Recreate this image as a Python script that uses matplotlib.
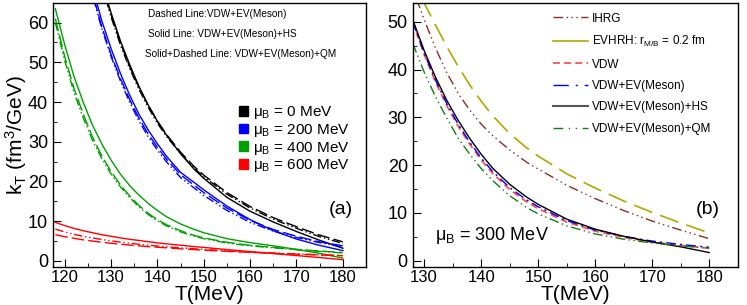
import matplotlib
matplotlib.use('Agg')
import matplotlib.pyplot as plt
from matplotlib.patches import Patch
from matplotlib.lines import Line2D

plt.rcParams['font.family'] = ['Liberation Sans', 'DejaVu Sans']
plt.rcParams['lines.scale_dashes'] = False
plt.rcParams['mathtext.fontset'] = 'custom'
plt.rcParams['mathtext.rm'] = 'Liberation Sans'
plt.rcParams['mathtext.it'] = 'Liberation Sans'

# ---- panel (a): kT vs T for several muB ----
T_a = [118, 120, 122, 124, 126, 128, 130, 132, 134, 136, 138, 140, 142, 145, 148, 150,
       155, 160, 165, 170, 175, 180]

mu0_ev = [120, 108, 97, 87, 78, 70, 62, 55, 49, 43.8, 39.2, 35.2, 31.8, 27.4, 23.7, 21.6,
          17.2, 13.7, 10.9, 8.6, 6.5, 4.8]
mu0_hs = [120, 108, 97, 87, 78, 70, 62.5, 55.5, 49.5, 44, 39.3, 35.2, 31.6, 27, 23, 20.8,
          16, 12.5, 9.8, 7.4, 5.2, 3.2]
mu0_qm = [119, 107, 96, 86, 77, 69.5, 61.5, 54.5, 48.5, 43.3, 38.7, 34.7, 31.3, 27, 23.3, 21.2,
          16.8, 13.3, 10.5, 8.2, 6.1, 4.4]

mu200_ev = [110, 98, 87.5, 77, 67.5, 59, 52, 46, 40.7, 36, 32, 28.6, 25.6, 21.7, 19, 17.2,
            13.3, 10.2, 7.9, 6.2, 4.8, 3.8]
mu200_hs = [112, 100, 89, 79, 69, 60.5, 53.5, 47.3, 41.8, 37, 33, 29.5, 26.3, 22.3, 19.7, 17.9,
            13.8, 10.4, 7.6, 5.5, 3.9, 2.6]
mu200_qm = [109, 97, 86.5, 76.5, 67, 58.5, 51.5, 45.4, 40, 35.3, 31.3, 27.9, 24.9, 21, 18.3, 16.5,
            12.7, 9.7, 7.5, 5.9, 4.6, 3.5]

mu400_ev = [61, 51.5, 43.5, 37, 31.2, 26.5, 22.5, 19.2, 16.4, 14, 12, 10.4, 9.1, 7.6, 6.4, 5.8,
            4.7, 3.9, 3.4, 2.9, 2.5, 2.1]
mu400_hs = [63.5, 54.5, 46.5, 40, 34.2, 29.5, 25.4, 21.9, 19, 16.6, 14.5, 12.7, 11.1, 9.3, 7.9, 7.1,
            5.6, 4.6, 3.8, 2.9, 1.9, 0.7]
mu400_qm = [60, 50.5, 42.5, 36, 30.4, 25.8, 21.9, 18.7, 16, 13.6, 11.7, 10.1, 8.8, 7.3, 6.2, 5.6,
            4.5, 3.8, 3.3, 2.8, 2.4, 2.0]

mu600_ev = [6.6, 6.1, 5.7, 5.3, 5.0, 4.7, 4.45, 4.2, 4.0, 3.8, 3.6, 3.45, 3.3, 3.05, 2.85, 2.7,
            2.4, 2.15, 1.9, 1.7, 1.5, 1.3]
mu600_hs = [9.7, 8.9, 8.2, 7.6, 7.1, 6.6, 6.2, 5.8, 5.45, 5.15, 4.85, 4.55, 4.3, 3.95, 3.6, 3.4,
            2.85, 2.35, 1.85, 1.35, 0.85, 0.3]
mu600_qm = [8.0, 7.3, 6.7, 6.2, 5.8, 5.4, 5.05, 4.75, 4.45, 4.2, 3.95, 3.75, 3.55, 3.3, 3.05, 2.9,
            2.55, 2.25, 2.0, 1.75, 1.55, 1.35]

mu_labels = ['0', '200', '400', '600']
mu_colors = ['#000000', '#0000ff', '#00a000', '#ff0000']

# ---- panel (b): muB = 300 MeV, model comparison ----
T_b = [128, 130, 132, 134, 136, 138, 140, 142, 145, 148, 150, 155, 160, 165, 170, 175, 180]

ihrg = [57, 50.5, 44.5, 39.3, 35, 31.5, 28.6, 26.2, 23.2, 20.6, 19.2, 15.8, 13, 10.5, 8.3, 6.4, 4.6]
evhrh = [60, 54, 49.3, 44.8, 40.6, 36.8, 33.4, 30.4, 26.6, 23.6, 21.9, 18.2, 15.2, 12.5, 10.1, 7.9, 5.8]
vdw = [50, 43.2, 37.4, 32.4, 28.1, 24.4, 21.1, 18.3, 14.9, 12.3, 10.9, 8.1, 6.2, 4.9, 3.9, 3.2, 2.6]
vdw_ev = [50, 43.5, 37.8, 32.8, 28.5, 24.8, 21.5, 18.7, 15.3, 12.7, 11.3, 8.4, 6.4, 5.1, 4.1, 3.4, 2.8]
vdw_hs = [50.5, 44, 38.4, 33.5, 29.3, 25.6, 22.3, 19.4, 16, 13.3, 11.8, 8.7, 6.6, 5.1, 3.9, 2.9, 1.7]
vdw_qm = [45.5, 39.5, 34.3, 29.8, 25.6, 22.3, 19.3, 16.8, 13.6, 11.1, 9.8, 7.3, 5.6, 4.5, 3.7, 3.1, 2.6]

b_labels = ['IHRG', 'EVHRH: $\\mathregular{r_{M/B}}$ = 0.2 fm', 'VDW', 'VDW+EV(Meson)',
            'VDW+EV(Meson)+HS', 'VDW+EV(Meson)+QM']

fig = plt.figure(figsize=(7.47, 3.05), dpi=100)
ax1 = fig.add_axes([0.071, 0.125, 0.419, 0.866])
ax2 = fig.add_axes([0.5525, 0.125, 0.435, 0.866])

dash_ev = (0, (9, 3))
dash_qm = (0, (6, 2, 1, 2, 1, 2))

groups = [(mu0_ev, mu0_hs, mu0_qm), (mu200_ev, mu200_hs, mu200_qm),
          (mu400_ev, mu400_hs, mu400_qm), (mu600_ev, mu600_hs, mu600_qm)]
for (ev, hs, qm), c in zip(groups, mu_colors):
    ax1.plot(T_a, ev, color=c, lw=1.0, linestyle=dash_ev)
    ax1.plot(T_a, hs, color=c, lw=1.0)
    ax1.plot(T_a, qm, color=c, lw=1.0, linestyle=dash_qm)

ax1.set_xlim(117.5, 185)
ax1.set_ylim(-1.5, 65)

handles = [Patch(facecolor=c, edgecolor=c) for c in mu_colors]
labels = ['$\\mathregular{\\mu_B}$ = %s MeV' % m for m in mu_labels]
ax1.legend(handles, labels, loc='upper left', bbox_to_anchor=(0.57, 0.645), frameon=False,
           fontsize=11, handlelength=0.6, handleheight=0.6, handletextpad=0.3,
           labelspacing=0.05, borderpad=0)

ax1.text(0.305, 0.945, 'Dashed Line:VDW+EV(Meson)', transform=ax1.transAxes, fontsize=7.2)
ax1.text(0.305, 0.87, 'Solid Line: VDW+EV(Meson)+HS', transform=ax1.transAxes, fontsize=7.2)
ax1.text(0.295, 0.795, 'Solid+Dashed Line: VDW+EV(Meson)+QM', transform=ax1.transAxes, fontsize=7.2)
ax1.text(0.88, 0.2, '(a)', transform=ax1.transAxes, fontsize=14)

ax1.set_xticks([120, 130, 140, 150, 160, 170, 180])
ax1.set_xticks(range(125, 185, 10), minor=True)
ax1.set_yticks(range(0, 61, 10))
ax1.set_yticks(range(5, 65, 10), minor=True)
ax1.set_xlabel('T(MeV)', fontsize=15, labelpad=0)
ax1.set_ylabel('$\\mathregular{k_T\\ (fm^3/GeV)}$', fontsize=15)
ax1.yaxis.set_label_coords(-0.076, 0.5)

# panel (b)
ls_ihrg = (0, (7, 2.5, 1, 2.5, 1, 2.5, 1, 2.5))
ls_qm = (0, (7, 2.5, 1, 2.5, 1, 2.5))
ax2.plot(T_b, ihrg, color='#8b2c2c', lw=1.0, linestyle=ls_ihrg)
ax2.plot(T_b, evhrh, color='#b0a800', lw=1.2, linestyle=(0, (14, 6)))
ax2.plot(T_b, vdw, color='#ff4f4f', lw=1.3, linestyle=(0, (5, 3)))
ax2.plot(T_b, vdw_ev, color='#0000ff', lw=1.0, linestyle=(0, (7, 3, 1.5, 3)))
ax2.plot(T_b, vdw_hs, color='#000000', lw=1.0)
ax2.plot(T_b, vdw_qm, color='#108010', lw=1.0, linestyle=ls_qm)

ax2.set_xlim(128, 185)
ax2.set_ylim(-1.3, 54)
ax2.set_xticks([130, 140, 150, 160, 170, 180])
ax2.set_xticks(range(135, 185, 10), minor=True)
ax2.set_yticks(range(0, 51, 10))
ax2.set_yticks(range(5, 55, 10), minor=True)
ax2.set_xlabel('T(MeV)', fontsize=15, labelpad=0)

leg_handles = [
    Line2D([], [], color='#8b2c2c', lw=1.0, linestyle=ls_ihrg),
    Line2D([], [], color='#b0a800', lw=1.2),
    Line2D([], [], color='#ff4f4f', lw=1.3, linestyle=(0, (5, 3))),
    Line2D([], [], color='#0000ff', lw=1.0, linestyle=(0, (11, 5, 1.5, 5))),
    Line2D([], [], color='#555555', lw=1.5),
    Line2D([], [], color='#108010', lw=1.0, linestyle=(0, (7, 4, 1, 4, 1, 4))),
]
ax2.legend(leg_handles, b_labels, loc='upper left', bbox_to_anchor=(0.415, 0.985), frameon=False,
           fontsize=8.5, handlelength=2.9, handletextpad=0.35, labelspacing=0.8, borderpad=0)

ax2.text(0.07, 0.1, '$\\mathregular{\\mu_B}$ = 300 MeV', transform=ax2.transAxes, fontsize=13)
ax2.text(0.87, 0.2, '(b)', transform=ax2.transAxes, fontsize=14)

for ax in (ax1, ax2):
    ax.tick_params(which='both', direction='in', top=False, right=False)
    ax.tick_params(which='major', length=6, labelsize=13)
    ax.tick_params(which='minor', length=3)
    ax.tick_params(axis='x', labelsize=12, pad=2)
    for s in ax.spines.values():
        s.set_linewidth(1.0)

fig.savefig('out.png', dpi=100)
